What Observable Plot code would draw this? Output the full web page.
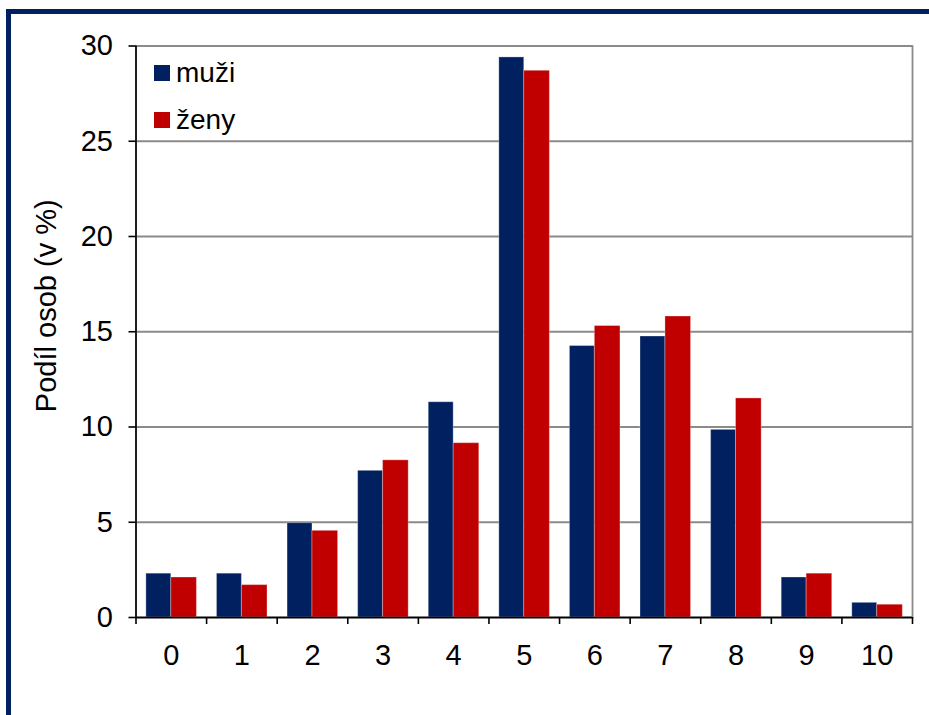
<!DOCTYPE html>
<html>
<head>
<meta charset="utf-8">
<script src="https://cdn.jsdelivr.net/npm/d3@7"></script>
<script src="https://cdn.jsdelivr.net/npm/@observablehq/plot@0.6"></script>
<style>
html, body { margin: 0; padding: 0; background: #fff; overflow: hidden; width: 929px; height: 715px; }
#wrap { position: relative; width: 929px; height: 715px; overflow: hidden; font-family: "Liberation Sans", Arial, sans-serif; }
#frame { position: absolute; left: 6px; top: 9px; width: 1000px; height: 800px; border: 5px solid #002060; box-sizing: border-box; pointer-events: none; }
#chart { position: absolute; left: 0; top: 0; }
#legend { position: absolute; left: 154px; top: 49px; font-size: 28px; color: #000; }
#legend .row { display: flex; align-items: center; height: 47px; }
#legend .sw { width: 16px; height: 16px; margin-right: 6px; }
</style>
</head>
<body>
<div id="wrap">
  <div id="chart"></div>
  <div id="legend"></div>
  <div id="frame"></div>
</div>
<script>
// ---- data ----
const categories = ["0", "1", "2", "3", "4", "5", "6", "7", "8", "9", "10"];
const series = ["muži", "ženy"];
const muzi = [2.3, 2.3, 4.95, 7.7, 11.3, 29.4, 14.25, 14.75, 9.85, 2.1, 0.77];
const zeny = [2.1, 1.7, 4.55, 8.25, 9.15, 28.7, 15.3, 15.8, 11.5, 2.3, 0.67];
const yTicks = [0, 5, 10, 15, 20, 25, 30];
const yLabel = "Podíl osob (v %)";
const colors = ["#002060", "#C00000"];

// ---- build ----
const values = [muzi, zeny];
const data = categories.flatMap((c, i) => series.map((s, k) => ({cat: c, sex: s, value: values[k][i]})));

const W = 929, H = 715, mL = 135.5, mR = 17, mT = 45.5, mB = 98;
const step = (W - mL - mR) / categories.length;
const gapL = 0.147, gapR = 0.137;   // free space left/right of each bar pair (fraction of band)

const barOpts = {x: "cat", y: "value", fill: "sex", stroke: "#ffffff", strokeOpacity: 0.3, strokeWidth: 1};

const chart = Plot.plot({
  width: W, height: H,
  marginLeft: mL, marginRight: mR, marginTop: mT, marginBottom: mB,
  style: {fontFamily: "'Liberation Sans', Arial, sans-serif", fontSize: "29px", color: "#000", background: "transparent", overflow: "visible"},
  x: {domain: categories, paddingInner: 0, paddingOuter: 0, round: false, label: null},
  y: {domain: [yTicks[0], yTicks[yTicks.length - 1]], label: null},
  color: {domain: series, range: colors},
  marks: [
    Plot.gridY(yTicks, {stroke: "#8a8a8a", strokeOpacity: 1, strokeWidth: 1.8}),
    Plot.frame({stroke: "#8a8a8a", strokeWidth: 1.8}),
    Plot.barY(data.filter(d => d.sex === series[0]), {...barOpts, insetLeft: step * gapL, insetRight: step * 0.5}),
    Plot.barY(data.filter(d => d.sex === series[1]), {...barOpts, insetLeft: step * 0.5, insetRight: step * gapR}),
    Plot.ruleY([0], {stroke: "#000", strokeWidth: 1.6}),
    Plot.ruleX([categories[0]], {stroke: "#000", strokeWidth: 1.6, dx: -step / 2}),
    Plot.axisY(yTicks, {tickSize: 7, tickPadding: 16, label: null, stroke: "#000", strokeWidth: 1.6}),
    Plot.text([yLabel], {frameAnchor: "left", rotate: -90, textAnchor: "middle", lineAnchor: "middle", dx: -89, dy: -26, fontSize: 29, fill: "#000"}),
    Plot.axisX({anchor: "bottom", tickSize: 0, tickPadding: 27, label: null}),
    Plot.axisX({anchor: "bottom", tickSize: 7, tickFormat: () => "", dx: -step / 2, label: null, strokeWidth: 1.6}),
    Plot.axisX([categories[categories.length - 1]], {anchor: "bottom", tickSize: 7, tickFormat: () => "", dx: step / 2, label: null, strokeWidth: 1.6})
  ]
});
document.getElementById("chart").appendChild(chart);

// ---- legend ----
const leg = document.getElementById("legend");
series.forEach((s, k) => {
  const row = document.createElement("div");
  row.className = "row";
  const sw = document.createElement("div");
  sw.className = "sw";
  sw.style.background = colors[k];
  const t = document.createElement("span");
  t.textContent = s;
  row.appendChild(sw);
  row.appendChild(t);
  leg.appendChild(row);
});
</script>
</body>
</html>
